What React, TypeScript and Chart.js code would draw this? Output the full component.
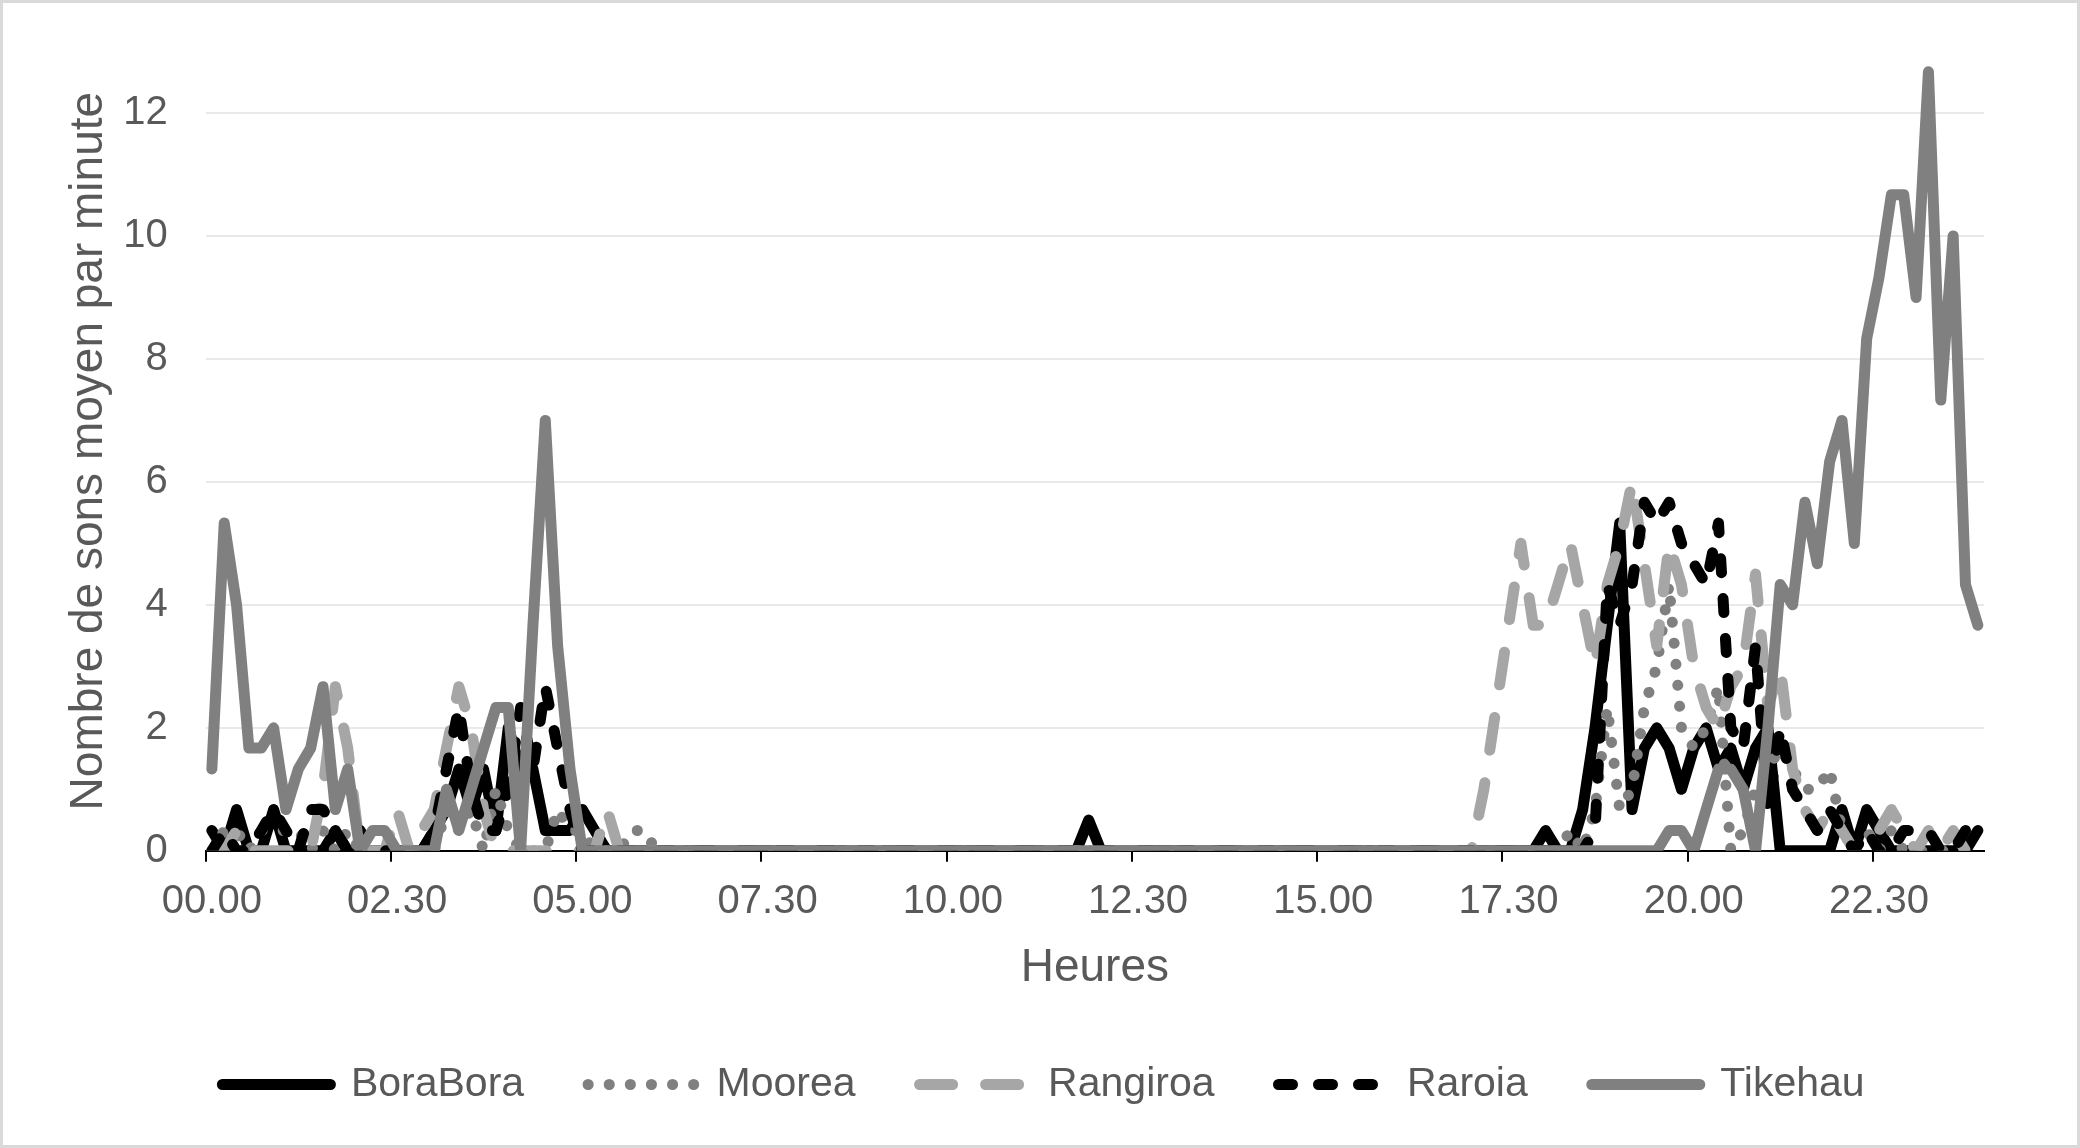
import { useEffect, useRef } from "react";
import { Chart, ChartConfiguration, registerables } from "chart.js";
Chart.register(...registerables);

const FONT = "'Liberation Sans', Arial, sans-serif";
const TEXT = "#595959";

// 10-minute slots over the day, labelled "00.00", "00.10", ...
const hours: string[] = [];
for (let h = 0; h < 24; h++) {
  for (let m = 0; m < 60; m += 10) {
    hours.push(`${String(h).padStart(2, "0")}.${String(m).padStart(2, "0")}`);
  }
}
const LABEL_EVERY = 15; // one label / tick mark every 2h30

// mean number of sounds per minute, one row = 2 hours
const boraBora = [
  0.33, 0, 0.67, 0, 0, 0.67, 0, 0, 0, 0, 0.33, 0,
  0, 0, 0, 0, 0, 0, 0.33, 0.67, 1.33, 0.67, 1.33, 0.33,
  2, 1.33, 1.33, 0.33, 0.33, 0.33, 0.67, 0.33, 0, 0, 0, 0,
  0, 0, 0, 0, 0, 0, 0, 0, 0, 0, 0, 0,
  0, 0, 0, 0, 0, 0, 0, 0, 0, 0, 0, 0,
  0, 0, 0, 0, 0, 0, 0, 0, 0, 0, 0, 0.5,
  0, 0, 0, 0, 0, 0, 0, 0, 0, 0, 0, 0,
  0, 0, 0, 0, 0, 0, 0, 0, 0, 0, 0, 0,
  0, 0, 0, 0, 0, 0, 0, 0, 0, 0, 0, 0,
  0.33, 0, 0, 0.67, 2, 3.67, 5.33, 0.67, 1.67, 2, 1.67, 1,
  1.67, 2, 1.33, 1.67, 1, 1.67, 2, 0, 0, 0, 0, 0,
  0.67, 0, 0.67, 0.33, 0, 0, 0, 0, 0, 0, 0, 0.33,
];

const moorea = [
  0, 0.33, 0.33, 0, 0.33, 0.33, 0.33, 0.33, 0, 0.33, 0, 0.33,
  0, 0, 0, 0, 0, 0, 0, 0.67, 0.33, 0.67, 0, 1,
  0.33, 0, 0, 0, 0.67, 0.33, 0.33, 0, 0, 0, 0.33, 0.33,
  0, 0, 0, 0, 0, 0, 0, 0, 0, 0, 0, 0,
  0, 0, 0, 0, 0, 0, 0, 0, 0, 0, 0, 0,
  0, 0, 0, 0, 0, 0, 0, 0, 0, 0, 0, 0,
  0, 0, 0, 0, 0, 0, 0, 0, 0, 0, 0, 0,
  0, 0, 0, 0, 0, 0, 0, 0, 0, 0, 0, 0,
  0, 0, 0, 0, 0, 0, 0, 0, 0, 0, 0, 0,
  0, 0, 0.33, 0, 0.67, 2.33, 0.67, 1, 2.33, 3, 4.33, 2,
  1.67, 2, 2.67, 0, 0.33, 1, 1.33, 1.67, 1.33, 1, 1, 1.33,
  0.33, 0, 0.33, 0, 0.33, 0, 0, 0, 0, 0, 0, 0,
];

const rangiroa = [
  0, 0, 0.33, 0, 0, 0, 0, 0, 0, 1, 2.67, 1.67,
  0, 0, 0, 0.67, 0, 0.33, 0.67, 1.67, 2.67, 2, 0.67, 0,
  0, 0, 0, 0, 0, 0, 0, 0, 0.67, 0, 0, 0,
  0, 0, 0, 0, 0, 0, 0, 0, 0, 0, 0, 0,
  0, 0, 0, 0, 0, 0, 0, 0, 0, 0, 0, 0,
  0, 0, 0, 0, 0, 0, 0, 0, 0, 0, 0, 0,
  0, 0, 0, 0, 0, 0, 0, 0, 0, 0, 0, 0,
  0, 0, 0, 0, 0, 0, 0, 0, 0, 0, 0, 0,
  0, 0, 0, 0, 0, 0, 0, 1, 2.33, 3.67, 5, 3.67,
  3.67, 4.33, 5, 4, 3, 4.33, 5, 6, 4.67, 3.33, 5, 4.33,
  3, 2.33, 2, 2.67, 3, 4.5, 2.33, 3, 1.33, 0.67, 0.33, 0.67,
  0.33, 0, 0.33, 0.33, 0.67, 0.33, 0, 0.33, 0, 0.33, 0, 0,
];

const raroia = [
  0, 0.33, 0, 0, 0.33, 0.67, 0.33, 0, 0.67, 0.67, 0.33, 0,
  0.33, 0, 0, 0, 0, 0, 0.33, 1.33, 2.33, 1, 0.33, 0.33,
  1, 2.33, 1.33, 2.67, 1.67, 0.67, 0, 0, 0, 0, 0, 0,
  0, 0, 0, 0, 0, 0, 0, 0, 0, 0, 0, 0,
  0, 0, 0, 0, 0, 0, 0, 0, 0, 0, 0, 0,
  0, 0, 0, 0, 0, 0, 0, 0, 0, 0, 0, 0,
  0, 0, 0, 0, 0, 0, 0, 0, 0, 0, 0, 0,
  0, 0, 0, 0, 0, 0, 0, 0, 0, 0, 0, 0,
  0, 0, 0, 0, 0, 0, 0, 0, 0, 0, 0, 0,
  0, 0, 0, 0, 0.33, 4.33, 3.67, 4.33, 5.67, 5.33, 5.67, 5,
  4.67, 4.33, 5.33, 2, 1.67, 3.33, 0.67, 2, 1, 0.67, 0.33, 0.67,
  0.33, 0, 0.33, 0, 0, 0.33, 0.33, 0.33, 0, 0, 0.33, 0,
];

const tikehau = [
  1.33, 5.33, 4, 1.67, 1.67, 2, 0.67, 1.33, 1.67, 2.67, 0.67, 1.33,
  0, 0.33, 0.33, 0, 0, 0, 0, 1, 0.33, 1, 1.67, 2.33,
  2.33, 0, 3.67, 7, 3.33, 1.33, 0, 0, 0, 0, 0, 0,
  0, 0, 0, 0, 0, 0, 0, 0, 0, 0, 0, 0,
  0, 0, 0, 0, 0, 0, 0, 0, 0, 0, 0, 0,
  0, 0, 0, 0, 0, 0, 0, 0, 0, 0, 0, 0,
  0, 0, 0, 0, 0, 0, 0, 0, 0, 0, 0, 0,
  0, 0, 0, 0, 0, 0, 0, 0, 0, 0, 0, 0,
  0, 0, 0, 0, 0, 0, 0, 0, 0, 0, 0, 0,
  0, 0, 0, 0, 0, 0, 0, 0, 0, 0, 0.33, 0.33,
  0, 0.67, 1.33, 1.33, 1, 0, 2, 4.33, 4, 5.67, 4.67, 6.33,
  7, 5, 8.33, 9.33, 10.67, 10.67, 9, 12.67, 7.33, 10, 4.33, 3.67,
];

// Excel-like line look; lower "order" is drawn on top (Tikehau last)
const line = (label: string, data: number[], color: string, dash: number[], order: number) => ({
  label,
  data,
  borderColor: color,
  backgroundColor: color,
  borderWidth: 11,
  borderDash: dash,
  borderCapStyle: "round" as const,
  borderJoinStyle: "round" as const,
  pointRadius: 0,
  pointHoverRadius: 0,
  tension: 0,
  fill: false,
  order,
});

// the legend row sits a bit right of the canvas centre in the original
const legendShift = {
  id: "legendShift",
  afterLayout(chart: any) {
    if (chart.legend) {
      chart.legend.left += 30;
      chart.legend.right += 30;
    }
  },
};

export default function App() {
  const canvasRef = useRef<HTMLCanvasElement>(null);

  useEffect(() => {
    document.body.style.margin = "0";
    if (!canvasRef.current) return;

    Chart.defaults.font.family = FONT;
    Chart.defaults.color = TEXT;

    const config: ChartConfiguration = {
      type: "line",
      data: {
        labels: hours,
        datasets: [
          line("BoraBora", boraBora, "#000000", [], 5),
          line("Moorea", moorea, "#808080", [0.1, 21], 4),
          line("Rangiroa", rangiroa, "#a6a6a6", [33, 33], 3),
          line("Raroia", raroia, "#000000", [14, 26], 2),
          line("Tikehau", tikehau, "#808080", [], 1),
        ] as any,
      },
      options: {
        responsive: false,
        animation: false,
        events: [],
        layout: { padding: { left: 40, right: 93, top: 48.5, bottom: 30 } },
        plugins: {
          tooltip: { enabled: false },
          legend: {
            position: "bottom",
            labels: {
              usePointStyle: true,
              pointStyle: "line",
              pointStyleWidth: 108,
              padding: 64,
              color: TEXT,
              font: { size: 41 },
              generateLabels: (chart) =>
                chart.data.datasets.map((ds: any, i) => ({
                  text: ds.label,
                  datasetIndex: i,
                  strokeStyle: ds.borderColor,
                  fillStyle: ds.borderColor,
                  lineWidth: ds.borderWidth,
                  lineDash: ds.borderDash,
                  lineCap: "round",
                  pointStyle: "line",
                  fontColor: TEXT,
                  hidden: false,
                })),
            },
          },
        },
        scales: {
          x: {
            type: "category",
            offset: true,
            grid: {
              offset: true,
              drawOnChartArea: false,
              drawTicks: true,
              tickLength: 11,
              lineWidth: 2,
              color: (ctx: any) =>
                ctx.index % LABEL_EVERY === 0 ? "#000000" : "rgba(0,0,0,0)",
            },
            border: { display: true, color: "#000000", width: 2 },
            ticks: {
              autoSkip: false,
              maxRotation: 0,
              minRotation: 0,
              padding: 16.5,
              color: TEXT,
              font: { size: 40 },
              callback: (_v: any, i: number) => (i % LABEL_EVERY === 0 ? hours[i] : ""),
            },
            title: {
              display: true,
              text: "Heures",
              color: TEXT,
              font: { size: 46 },
              padding: { top: -2, bottom: 4 },
            },
          },
          y: {
            min: 0,
            max: 13,
            grid: {
              color: "#e9e9e9",
              lineWidth: 2,
              drawTicks: true,
              tickLength: 38,
              tickColor: "rgba(0,0,0,0)",
            },
            border: { display: false },
            ticks: {
              stepSize: 2,
              includeBounds: false,
              padding: 0,
              color: TEXT,
              font: { size: 40 },
            },
            title: {
              display: true,
              text: "Nombre de sons moyen par minute",
              color: TEXT,
              font: { size: 46 },
              padding: { top: 19, bottom: 6 },
            },
          },
        },
      },
      plugins: [legendShift],
    };

    const chart = new Chart(canvasRef.current, config);
    return () => chart.destroy();
  }, []);

  return (
    <div
      style={{
        width: 2080,
        height: 1148,
        boxSizing: "border-box",
        border: "3px solid #d9d9d9",
        background: "#ffffff",
      }}
    >
      <canvas ref={canvasRef} width={2074} height={1142} style={{ display: "block" }} />
    </div>
  );
}
